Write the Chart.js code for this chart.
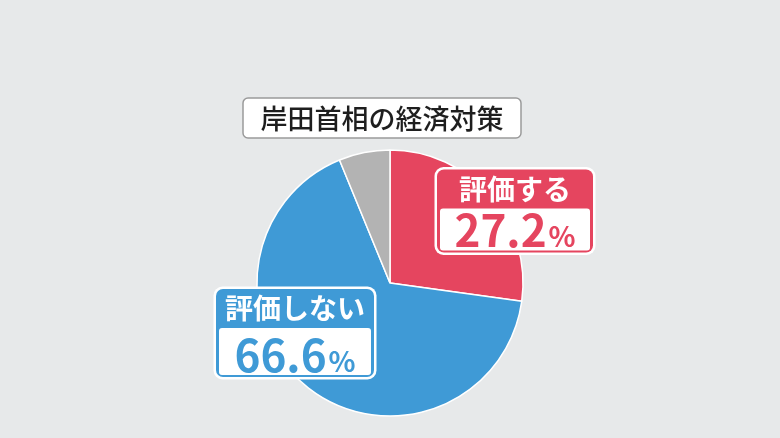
<!DOCTYPE html>
<html lang="ja">
<head>
<meta charset="utf-8">
<script src="https://cdn.jsdelivr.net/npm/chart.js@4.4.1/dist/chart.umd.min.js"></script>
<style>
    html, body { margin: 0; padding: 0; background: #e7e9ea; }
    #wrap { width: 780px; height: 438px; }
</style>
</head>
<body>
<div id="wrap"><canvas id="chart" width="780" height="438"></canvas></div>
<script>
const categories = ['評価する', '評価しない', 'その他'];
const values = [27.2, 66.6, 6.2];
const sliceColors = ['#e5455f', '#3f9ad6', '#b3b3b3'];
const chartTitle = '岸田首相の経済対策';

// callout boxes: slice index and box placement relative to the pie centre
const callouts = [
    { index: 0, dx: 125, dy: -72, w: 161, h: 88 },
    { index: 1, dx: -95, dy: 50, w: 163, h: 93 }
];

const FONT = '"Noto Sans CJK JP", "Noto Sans", sans-serif';

function roundRect(ctx, x, y, w, h, r) {
    ctx.beginPath();
    ctx.moveTo(x + r, y);
    ctx.lineTo(x + w - r, y);
    ctx.arcTo(x + w, y, x + w, y + r, r);
    ctx.lineTo(x + w, y + h - r);
    ctx.arcTo(x + w, y + h, x + w - r, y + h, r);
    ctx.lineTo(x + r, y + h);
    ctx.arcTo(x, y + h, x, y + h - r, r);
    ctx.lineTo(x, y + r);
    ctx.arcTo(x, y, x + r, y, r);
    ctx.closePath();
}

const backgroundPlugin = {
    id: 'bg',
    beforeDraw(chart) {
        const ctx = chart.ctx;
        ctx.save();
        ctx.fillStyle = '#e7e9ea';
        ctx.fillRect(0, 0, chart.width, chart.height);
        ctx.restore();
    }
};

const titleBoxPlugin = {
    id: 'titleBox',
    afterDraw(chart) {
        const ctx = chart.ctx;
        const cx = chart.width / 2 - 8;
        const w = 278, h = 40, top = 98;
        ctx.save();
        roundRect(ctx, cx - w / 2, top, w, h, 5);
        ctx.fillStyle = '#ffffff';
        ctx.fill();
        ctx.lineWidth = 1.5;
        ctx.strokeStyle = '#9a9a9a';
        ctx.stroke();
        ctx.fillStyle = '#1e1e1e';
        ctx.font = '500 27px ' + FONT;
        ctx.textAlign = 'center';
        ctx.textBaseline = 'middle';
        ctx.fillText(chartTitle, cx, top + h / 2 + 1);
        ctx.restore();
    }
};

const calloutPlugin = {
    id: 'callouts',
    afterDraw(chart) {
        const ctx = chart.ctx;
        const meta = chart.getDatasetMeta(0);
        callouts.forEach(c => {
            const arc = meta.data[c.index];
            const color = sliceColors[c.index];
            const bx = arc.x + c.dx - c.w / 2;
            const by = arc.y + c.dy - c.h / 2;
            ctx.save();
            // white outline
            roundRect(ctx, bx, by, c.w, c.h, 9);
            ctx.fillStyle = '#ffffff';
            ctx.fill();
            roundRect(ctx, bx + 2.5, by + 2.5, c.w - 5, c.h - 5, 7);
            ctx.fillStyle = color;
            ctx.fill();
            // white value panel
            roundRect(ctx, bx + 5.5, by + 41.5, c.w - 11, c.h - 46, 3);
            ctx.fillStyle = '#ffffff';
            ctx.fill();

            const mid = bx + c.w / 2;
            ctx.fillStyle = '#ffffff';
            ctx.font = 'bold 28px ' + FONT;
            ctx.textAlign = 'center';
            ctx.textBaseline = 'middle';
            ctx.fillText(categories[c.index], mid, by + 22);

            const num = values[c.index].toFixed(1);
            ctx.textBaseline = 'alphabetic';
            ctx.textAlign = 'left';
            ctx.font = 'bold 44px ' + FONT;
            const nw = ctx.measureText(num).width;
            ctx.font = 'bold 28px ' + FONT;
            const pw = ctx.measureText('%').width;
            const start = mid - (nw + pw + 2) / 2;
            const base = by + c.h - 8;
            ctx.fillStyle = color;
            ctx.font = 'bold 44px ' + FONT;
            ctx.fillText(num, start, base);
            ctx.font = 'bold 28px ' + FONT;
            ctx.fillText('%', start + nw + 2, base);
            ctx.restore();
        });
    }
};

new Chart(document.getElementById('chart'), {
    type: 'pie',
    data: {
        labels: categories,
        datasets: [{
            data: values,
            backgroundColor: sliceColors,
            borderColor: '#ffffff',
            borderWidth: 1.5
        }]
    },
    options: {
        responsive: false,
        animation: false,
        radius: 133,
        layout: {
            padding: { top: 150, bottom: 22, left: 257, right: 257 }
        },
        plugins: {
            legend: { display: false },
            tooltip: { enabled: false }
        }
    },
    plugins: [backgroundPlugin, titleBoxPlugin, calloutPlugin]
});
</script>
</body>
</html>
